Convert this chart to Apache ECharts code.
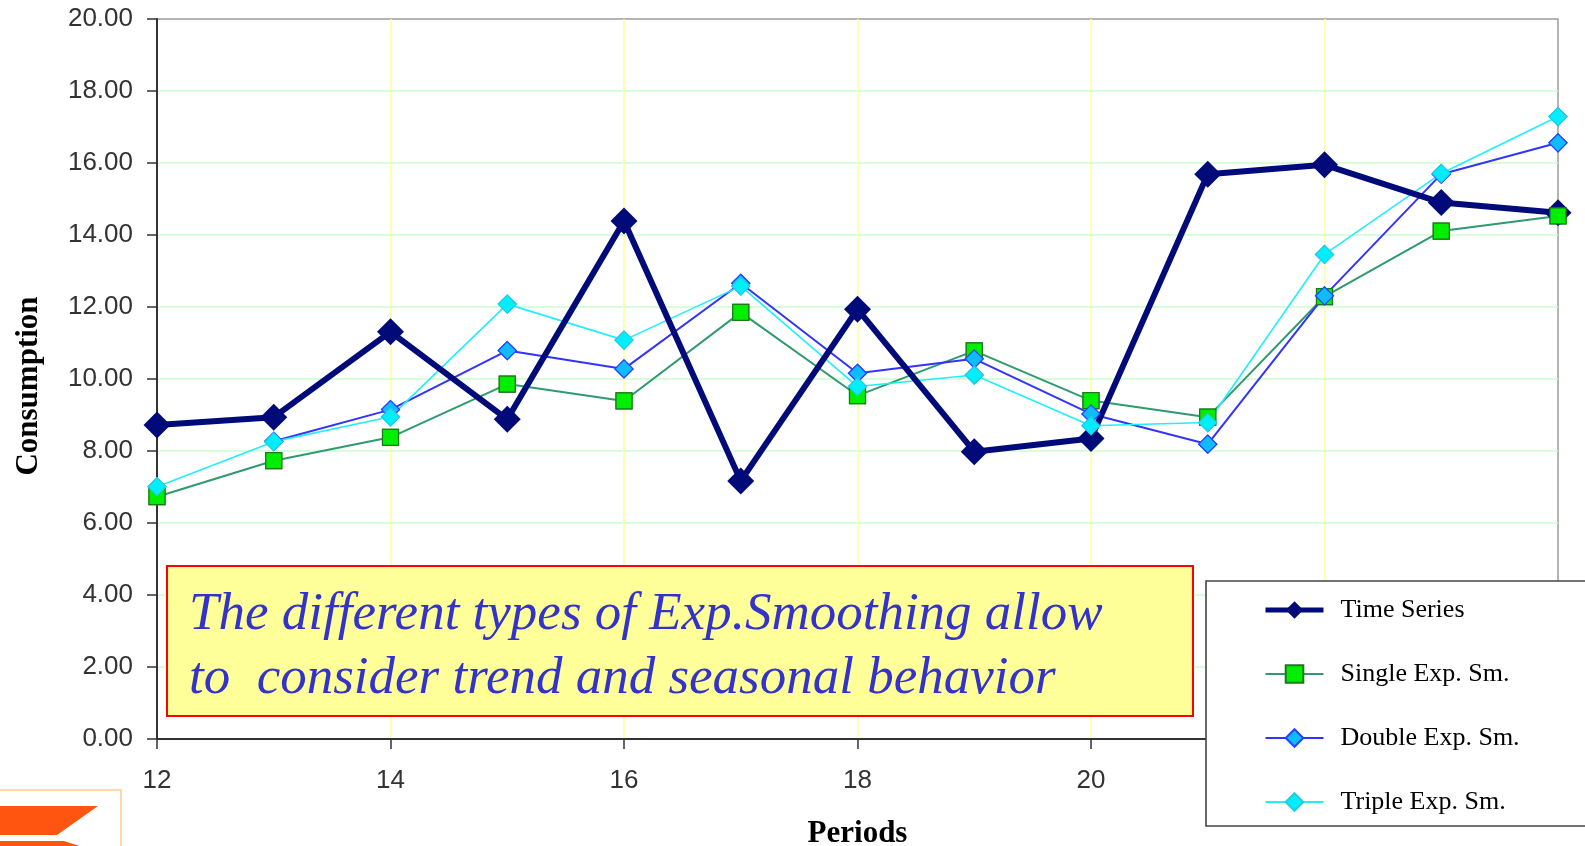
<!DOCTYPE html>
<html>
<head>
<meta charset="utf-8">
<script src="https://cdn.jsdelivr.net/npm/echarts@6/dist/echarts.min.js"></script>
<style>
  html, body { margin: 0; padding: 0; background: #ffffff; }
  #chart { width: 1585px; height: 846px; }
</style>
</head>
<body>
<div id="chart"></div>
<script>
// Periods on the horizontal axis
const periods = [12, 13, 14, 15, 16, 17, 18, 19, 20, 21, 22, 23, 24];

// Observed consumption and the three smoothing forecasts
const timeSeries = [8.72, 8.94, 11.31, 8.88, 14.39, 7.17, 11.94, 7.98, 8.35, 15.69, 15.95, 14.90, 14.62];
const singleExp  = [6.73, 7.73, 8.38, 9.86, 9.39, 11.85, 9.54, 10.78, 9.40, 8.94, 12.29, 14.11, 14.53];
const doubleExp  = [null, 8.27, 9.15, 10.79, 10.28, 12.66, 10.16, 10.56, 9.03, 8.19, 12.31, 15.69, 16.56];
const tripleExp  = [7.01, 8.26, 8.95, 12.08, 11.08, 12.58, 9.79, 10.11, 8.70, 8.79, 13.46, 15.71, 17.29];

const seriesNames = ['Time Series', 'Single Exp. Sm.', 'Double Exp. Sm.', 'Triple Exp. Sm.'];

const yTicks = { min: 0, max: 20, step: 2 };
const xTicks = { min: 12, max: 24, step: 2 };

const noteLines = ['The different types of Exp.Smoothing allow', 'to  consider trend and seasonal behavior'];

const pairs = vals => periods.map((p, i) => [p, vals[i]]);

const serif = '"Liberation Serif", "Times New Roman", serif';
const sans = '"Liberation Sans", Arial, sans-serif';

const navy = '#000a78';

// Style of each forecast series
const forecastStyles = [
  { name: seriesNames[1], data: singleExp, symbol: 'rect', size: 16, line: '#2f9a6e', lw: 2,
    fill: '#00ee00', border: '#1c7a1c' },
  { name: seriesNames[2], data: doubleExp, symbol: 'diamond', size: 18, line: '#3333ff', lw: 2,
    fill: '#11bbff', border: '#2244ff' },
  { name: seriesNames[3], data: tripleExp, symbol: 'diamond', size: 18, line: '#22eeff', lw: 1.6,
    fill: '#00eeff', border: '#22ccdd' }
];

const series = [];
// Forecast lines (below the observed line)
forecastStyles.forEach(s => {
  series.push({
    name: s.name, type: 'line', data: pairs(s.data), z: 2,
    symbol: s.symbol, symbolSize: s.size, showAllSymbol: true,
    lineStyle: { color: s.line, width: s.lw },
    itemStyle: { color: s.fill, borderColor: s.border, borderWidth: 1.2 },
    connectNulls: false, animation: false
  });
});
// Observed series
series.push({
  name: seriesNames[0], type: 'line', data: pairs(timeSeries), z: 3,
  symbol: 'diamond', symbolSize: 27,
  lineStyle: { color: navy, width: 6 },
  itemStyle: { color: navy },
  animation: false
});
// Forecast markers drawn above the observed line
forecastStyles.forEach(s => {
  series.push({
    name: s.name, type: 'line', data: pairs(s.data), z: 4,
    symbol: s.symbol, symbolSize: s.size, showAllSymbol: true,
    lineStyle: { width: 0, opacity: 0 },
    itemStyle: { color: s.fill, borderColor: s.border, borderWidth: 1.2 },
    animation: false
  });
});

const legendData = [
  { name: seriesNames[0], lineStyle: { color: navy, width: 5 }, itemStyle: { color: navy } },
  { name: seriesNames[1], lineStyle: { color: forecastStyles[0].line, width: 2 } },
  { name: seriesNames[2], lineStyle: { color: forecastStyles[1].line, width: 2 } },
  { name: seriesNames[3], lineStyle: { color: forecastStyles[2].line, width: 2 } }
];

const chart = echarts.init(document.getElementById('chart'));

chart.setOption({
  backgroundColor: '#ffffff',
  animation: false,
  grid: {
    left: 157, right: 27, top: 19, bottom: 107,
    outerBoundsMode: 'none', containLabel: false,
    show: true, borderColor: '#9c9c9c', borderWidth: 1.5, backgroundColor: 'transparent'
  },
  xAxis: {
    type: 'value', min: xTicks.min, max: xTicks.max, interval: xTicks.step,
    name: 'Periods', nameLocation: 'middle', nameGap: 79,
    nameTextStyle: { fontFamily: serif, fontWeight: 'bold', fontSize: 31, color: '#000' },
    axisLine: { show: true, lineStyle: { color: '#333', width: 2 } },
    axisTick: { show: true, length: 10, lineStyle: { color: '#333', width: 1.5 } },
    axisLabel: { margin: 29, fontFamily: sans, fontSize: 26, color: '#333',
      formatter: v => String(v) },
    splitLine: { show: true, showMinLine: false, showMaxLine: false,
      lineStyle: { color: '#ffff99', width: 1.5 } }
  },
  yAxis: {
    type: 'value', min: yTicks.min, max: yTicks.max, interval: yTicks.step,
    name: 'Consumption', nameLocation: 'middle', nameGap: 113, nameRotate: 90,
    nameTextStyle: { fontFamily: serif, fontWeight: 'bold', fontSize: 31, color: '#000',
      padding: [0, 14, 0, 0] },
    axisLine: { show: true, lineStyle: { color: '#333', width: 2 } },
    axisTick: { show: true, length: 10, lineStyle: { color: '#333', width: 1.5 } },
    axisLabel: { margin: 24, fontFamily: sans, fontSize: 26, color: '#333',
      formatter: v => v.toFixed(2) },
    splitLine: { show: true, showMinLine: false, showMaxLine: false,
      lineStyle: { color: '#ccffcc', width: 1.5 } }
  },
  legend: {
    data: legendData,
    orient: 'vertical', left: 1258, top: 592,
    itemWidth: 58, itemHeight: 22, itemGap: 38,
    selectedMode: false, z: 200,
    backgroundColor: 'transparent',
    textStyle: { fontFamily: serif, fontSize: 26, color: '#000', lineHeight: 26, padding: [0, 0, 0, 12] }
  },
  graphic: [
    // Legend frame
    { type: 'rect', z: 150, shape: { x: 1206, y: 581, width: 420, height: 245 },
      style: { fill: '#ffffff', stroke: '#444444', lineWidth: 1.6 } },
    // Note box
    { type: 'rect', z: 150, shape: { x: 167, y: 566, width: 1026, height: 150 },
      style: { fill: '#ffff99', stroke: '#ff0000', lineWidth: 2 } },
    { type: 'text', z: 151, x: 189, y: 589,
      style: { text: noteLines[0], fontFamily: serif, fontStyle: 'italic', fontSize: 53,
        fill: '#3333cc', verticalAlign: 'top' } },
    { type: 'text', z: 151, x: 189, y: 653,
      style: { text: noteLines[1], fontFamily: serif, fontStyle: 'italic', fontSize: 53,
        fill: '#3333cc', verticalAlign: 'top' } },
    // Corner emblem
    { type: 'rect', z: 150, shape: { x: -2, y: 790, width: 123, height: 70 },
      style: { fill: '#ffffff', stroke: '#ffcc88', lineWidth: 1.5 } },
    { type: 'polygon', z: 151, shape: { points: [[0, 806], [98, 806], [57, 835], [0, 835]] },
      style: { fill: '#ff5511' } },
    { type: 'polygon', z: 151, shape: { points: [[0, 841], [64, 841], [92, 850], [0, 850]] },
      style: { fill: '#ff5511' } }
  ],
  series: series
});
</script>
</body>
</html>
